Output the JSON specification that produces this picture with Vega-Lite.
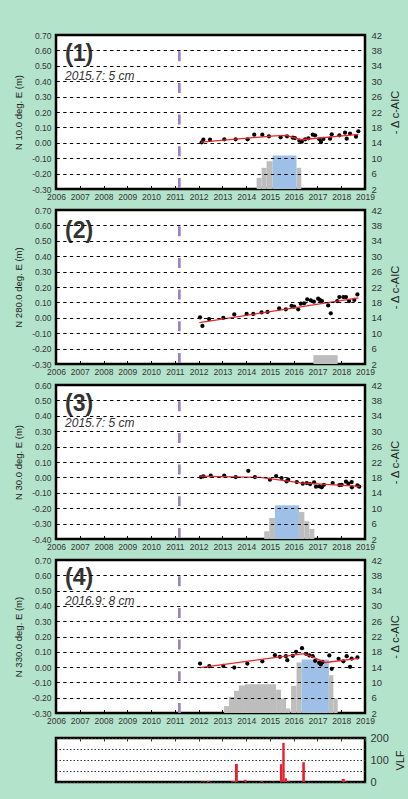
{
  "$schema": "https://vega.github.io/schema/vega-lite/v6.json",
  "background": "#b3e3cb",
  "padding": {"left": 12, "top": 28, "right": 5, "bottom": 11},
  "spacing": 3,
  "config": {
    "view": {"stroke": "black", "strokeWidth": 2.5, "fill": "white"},
    "axis": {"labelFont": "Liberation Sans", "titleFont": "Liberation Sans", "labelColor": "#333", "titleColor": "#222", "titleFontWeight": "normal", "domain": false, "ticks": false, "labelOverlap": false, "labelFlush": false, "tickCount": 30},
    "text": {"font": "Liberation Sans"}
  },
  "vconcat": [
    {
      "spacing": 0,
      "vconcat": [
        {
          "width": 309, "height": 154,
          "layer": [
            {
              "data": {"values": [
                {"x0": 2014.44, "x1": 2014.65, "v": 4.9, "c": "g"},
                {"x0": 2014.65, "x1": 2014.86, "v": 7.5, "c": "g"},
                {"x0": 2014.86, "x1": 2015.11, "v": 9.2, "c": "g"},
                {"x0": 2016.12, "x1": 2016.32, "v": 7.5, "c": "g"},
                {"x0": 2015.11, "x1": 2016.12, "v": 10.7, "c": "b"}
              ]},
              "mark": {"type": "bar"},
              "encoding": {
                "x": {"field": "x0", "type": "quantitative", "scale": {"domain": [2006, 2019], "nice": false, "zero": false},
                      "axis": {"values": [2006,2007,2008,2009,2010,2011,2012,2013,2014,2015,2016,2017,2018,2019], "tickCount": 30, "format": "d", "title": null, "labelFontSize": 8.5, "ticks": true, "tickSize": -3.5, "tickColor": "black", "labelPadding": 7, "grid": false}},
                "x2": {"field": "x1"},
                "y": {"field": "v", "type": "quantitative", "scale": {"domain": [2, 42], "nice": false, "zero": false},
                      "axis": {"orient": "right", "values": [2,6,10,14,18,22,26,30,34,38,42], "tickCount": 30, "title": "- Δ c-AIC", "titleAngle": 270, "titleBaseline": "top", "titleFontSize": 11, "titlePadding": 8, "labelFontSize": 9.5, "labelPadding": 6, "grid": false}},
                "y2": {"datum": 2},
                "color": {"field": "c", "type": "nominal", "scale": {"domain": ["g", "b"], "range": ["#bdbdbd", "#9ec0e6"]}, "legend": null}
              }
            },
            {
              "layer": [
                {
                  "data": {"values": [
                    {"t": 2012.13, "v": 0.003}, {"t": 2012.2, "v": 0.02}, {"t": 2012.48, "v": 0.02}, {"t": 2013.08, "v": 0.023},
                    {"t": 2013.56, "v": 0.023}, {"t": 2014.06, "v": 0.023}, {"t": 2014.34, "v": 0.053}, {"t": 2014.68, "v": 0.053},
                    {"t": 2014.96, "v": 0.042}, {"t": 2015.45, "v": 0.036}, {"t": 2015.72, "v": 0.042}, {"t": 2015.96, "v": 0.033},
                    {"t": 2016.05, "v": 0.031}, {"t": 2016.24, "v": 0.014}, {"t": 2016.34, "v": 0.007}, {"t": 2016.48, "v": 0.023},
                    {"t": 2016.62, "v": 0.029}, {"t": 2016.8, "v": 0.053}, {"t": 2016.9, "v": 0.049}, {"t": 2017.08, "v": 0.023},
                    {"t": 2017.15, "v": 0.005}, {"t": 2017.25, "v": 0.025}, {"t": 2017.53, "v": 0.027}, {"t": 2017.6, "v": 0.055},
                    {"t": 2017.92, "v": 0.049}, {"t": 2018.16, "v": 0.066}, {"t": 2018.23, "v": 0.027}, {"t": 2018.37, "v": 0.06},
                    {"t": 2018.62, "v": 0.04}, {"t": 2018.72, "v": 0.075}
                  ]},
                  "mark": {"type": "circle", "size": 18, "color": "black", "opacity": 1},
                  "encoding": {
                    "x": {"field": "t", "type": "quantitative", "scale": {"domain": [2006, 2019], "nice": false, "zero": false}},
                    "y": {"field": "v", "type": "quantitative", "scale": {"domain": [-0.3, 0.7], "nice": false, "zero": false},
                          "axis": {"orient": "left", "values": [-0.3,-0.2,-0.1,0,0.1,0.2,0.3,0.4,0.5,0.6,0.7], "tickCount": 30, "labelExpr": "replace(format(datum.value, '.2f'), '−', '-')", "title": "N 10.0 deg. E (m)", "titleFontSize": 9.5, "titlePadding": 8, "labelFontSize": 8.5, "labelPadding": 5, "grid": true, "gridColor": "black", "gridDash": [3.3, 3.4], "gridWidth": 1.1, "zindex": 1}}
                  }
                },
                {
                  "data": {"values": [{"t": 2012.1, "v": 0.005}, {"t": 2015.2, "v": 0.045}, {"t": 2015.7, "v": 0.048}, {"t": 2016.3, "v": 0.02}, {"t": 2018.72, "v": 0.055}]},
                  "mark": {"type": "line", "color": "#e8262b", "strokeWidth": 1.3},
                  "encoding": {
                    "x": {"field": "t", "type": "quantitative", "scale": {"domain": [2006, 2019], "nice": false, "zero": false}},
                    "y": {"field": "v", "type": "quantitative", "scale": {"domain": [-0.3, 0.7], "nice": false, "zero": false}}
                  }
                },
                {
                  "data": {"values": [{}]},
                  "mark": {"type": "rule", "color": "#9a84c6", "strokeWidth": 2.7, "strokeDash": [10, 21.7], "strokeDashOffset": 15.5},
                  "encoding": {"x": {"datum": 2011.19}}
                },
                {
                  "data": {"values": [{}]},
                  "mark": {"type": "text", "text": "(1)", "fontSize": 23, "fontWeight": "bold", "color": "#333", "align": "left", "baseline": "alphabetic"},
                  "encoding": {"x": {"datum": 2006.38}, "y": {"datum": 0.53}}
                },
                {
                  "data": {"values": [{}]},
                  "mark": {"type": "text", "text": "2015.7: 5 cm", "fontSize": 12, "fontStyle": "italic", "color": "#333", "align": "left", "baseline": "alphabetic"},
                  "encoding": {"x": {"datum": 2006.38}, "y": {"datum": 0.41}}
                }
              ]
            }
          ],
          "resolve": {"scale": {"y": "independent"}}
        },
        {
          "width": 309, "height": 154,
          "layer": [
            {
              "data": {"values": [
                {"x0": 2016.83, "x1": 2017.85, "v": 4.3, "c": "g"}
              ]},
              "mark": {"type": "bar"},
              "encoding": {
                "x": {"field": "x0", "type": "quantitative", "scale": {"domain": [2006, 2019], "nice": false, "zero": false},
                      "axis": {"values": [2006,2007,2008,2009,2010,2011,2012,2013,2014,2015,2016,2017,2018,2019], "tickCount": 30, "format": "d", "title": null, "labelFontSize": 8.5, "ticks": true, "tickSize": -3.5, "tickColor": "black", "labelPadding": 7, "grid": false}},
                "x2": {"field": "x1"},
                "y": {"field": "v", "type": "quantitative", "scale": {"domain": [2, 42], "nice": false, "zero": false},
                      "axis": {"orient": "right", "values": [2,6,10,14,18,22,26,30,34,38,42], "tickCount": 30, "title": "- Δ c-AIC", "titleAngle": 270, "titleBaseline": "top", "titleFontSize": 11, "titlePadding": 8, "labelFontSize": 9.5, "labelPadding": 6, "grid": false}},
                "y2": {"datum": 2},
                "color": {"field": "c", "type": "nominal", "scale": {"domain": ["g", "b"], "range": ["#bdbdbd", "#9ec0e6"]}, "legend": null}
              }
            },
            {
              "layer": [
                {
                  "data": {"values": [
                    {"t": 2012.06, "v": 0.003}, {"t": 2012.16, "v": -0.053}, {"t": 2012.44, "v": -0.008}, {"t": 2013.04, "v": 0.0},
                    {"t": 2013.5, "v": 0.022}, {"t": 2014.02, "v": 0.025}, {"t": 2014.3, "v": 0.025}, {"t": 2014.65, "v": 0.035},
                    {"t": 2014.9, "v": 0.038}, {"t": 2015.39, "v": 0.061}, {"t": 2015.67, "v": 0.055}, {"t": 2015.91, "v": 0.078},
                    {"t": 2016.02, "v": 0.072}, {"t": 2016.19, "v": 0.055}, {"t": 2016.3, "v": 0.092}, {"t": 2016.44, "v": 0.094},
                    {"t": 2016.57, "v": 0.12}, {"t": 2016.72, "v": 0.113}, {"t": 2016.85, "v": 0.105}, {"t": 2017.03, "v": 0.124},
                    {"t": 2017.1, "v": 0.116}, {"t": 2017.19, "v": 0.109}, {"t": 2017.45, "v": 0.08}, {"t": 2017.56, "v": 0.029},
                    {"t": 2017.83, "v": 0.109}, {"t": 2017.92, "v": 0.135}, {"t": 2018.09, "v": 0.135}, {"t": 2018.2, "v": 0.135},
                    {"t": 2018.33, "v": 0.109}, {"t": 2018.55, "v": 0.116}, {"t": 2018.68, "v": 0.152}
                  ]},
                  "mark": {"type": "circle", "size": 18, "color": "black", "opacity": 1},
                  "encoding": {
                    "x": {"field": "t", "type": "quantitative", "scale": {"domain": [2006, 2019], "nice": false, "zero": false}},
                    "y": {"field": "v", "type": "quantitative", "scale": {"domain": [-0.3, 0.7], "nice": false, "zero": false},
                          "axis": {"orient": "left", "values": [-0.3,-0.2,-0.1,0,0.1,0.2,0.3,0.4,0.5,0.6,0.7], "tickCount": 30, "labelExpr": "replace(format(datum.value, '.2f'), '−', '-')", "title": "N 280.0 deg. E (m)", "titleFontSize": 9.5, "titlePadding": 8, "labelFontSize": 8.5, "labelPadding": 5, "grid": true, "gridColor": "black", "gridDash": [3.3, 3.4], "gridWidth": 1.1, "zindex": 1}}
                  }
                },
                {
                  "data": {"values": [{"t": 2012.03, "v": -0.032}, {"t": 2018.72, "v": 0.13}]},
                  "mark": {"type": "line", "color": "#e8262b", "strokeWidth": 1.3},
                  "encoding": {
                    "x": {"field": "t", "type": "quantitative", "scale": {"domain": [2006, 2019], "nice": false, "zero": false}},
                    "y": {"field": "v", "type": "quantitative", "scale": {"domain": [-0.3, 0.7], "nice": false, "zero": false}}
                  }
                },
                {
                  "data": {"values": [{}]},
                  "mark": {"type": "rule", "color": "#9a84c6", "strokeWidth": 2.7, "strokeDash": [10, 21.7], "strokeDashOffset": 15.5},
                  "encoding": {"x": {"datum": 2011.19}}
                },
                {
                  "data": {"values": [{}]},
                  "mark": {"type": "text", "text": "(2)", "fontSize": 23, "fontWeight": "bold", "color": "#333", "align": "left", "baseline": "alphabetic"},
                  "encoding": {"x": {"datum": 2006.38}, "y": {"datum": 0.52}}
                }
              ]
            }
          ],
          "resolve": {"scale": {"y": "independent"}}
        },
        {
          "width": 309, "height": 154,
          "layer": [
            {
              "data": {"values": [
                {"x0": 2014.76, "x1": 2014.97, "v": 4.0, "c": "g"},
                {"x0": 2014.97, "x1": 2015.21, "v": 7.45, "c": "g"},
                {"x0": 2016.22, "x1": 2016.45, "v": 9.0, "c": "g"},
                {"x0": 2016.45, "x1": 2016.66, "v": 6.6, "c": "g"},
                {"x0": 2016.66, "x1": 2016.87, "v": 4.6, "c": "g"},
                {"x0": 2015.21, "x1": 2016.22, "v": 10.75, "c": "b"}
              ]},
              "mark": {"type": "bar"},
              "encoding": {
                "x": {"field": "x0", "type": "quantitative", "scale": {"domain": [2006, 2019], "nice": false, "zero": false},
                      "axis": {"values": [2006,2007,2008,2009,2010,2011,2012,2013,2014,2015,2016,2017,2018,2019], "tickCount": 30, "format": "d", "title": null, "labelFontSize": 8.5, "ticks": true, "tickSize": -3.5, "tickColor": "black", "labelPadding": 7, "grid": false}},
                "x2": {"field": "x1"},
                "y": {"field": "v", "type": "quantitative", "scale": {"domain": [2, 42], "nice": false, "zero": false},
                      "axis": {"orient": "right", "values": [2,6,10,14,18,22,26,30,34,38,42], "tickCount": 30, "title": "- Δ c-AIC", "titleAngle": 270, "titleBaseline": "top", "titleFontSize": 11, "titlePadding": 8, "labelFontSize": 9.5, "labelPadding": 6, "grid": false}},
                "y2": {"datum": 2},
                "color": {"field": "c", "type": "nominal", "scale": {"domain": ["g", "b"], "range": ["#bdbdbd", "#9ec0e6"]}, "legend": null}
              }
            },
            {
              "layer": [
                {
                  "data": {"values": [
                    {"t": 2012.1, "v": 0.002}, {"t": 2012.2, "v": 0.007}, {"t": 2012.51, "v": 0.011}, {"t": 2013.08, "v": 0.011},
                    {"t": 2013.56, "v": 0.002}, {"t": 2014.09, "v": 0.043}, {"t": 2014.37, "v": 0.002}, {"t": 2015.0, "v": -0.015},
                    {"t": 2015.26, "v": 0.009}, {"t": 2015.49, "v": -0.004}, {"t": 2015.7, "v": -0.026}, {"t": 2015.77, "v": -0.015},
                    {"t": 2016.13, "v": -0.03}, {"t": 2016.38, "v": -0.041}, {"t": 2016.55, "v": -0.037}, {"t": 2016.69, "v": -0.043},
                    {"t": 2016.86, "v": -0.032}, {"t": 2016.94, "v": -0.06}, {"t": 2017.08, "v": -0.058}, {"t": 2017.18, "v": -0.064},
                    {"t": 2017.27, "v": -0.048}, {"t": 2017.64, "v": -0.037}, {"t": 2017.92, "v": -0.05}, {"t": 2018.02, "v": -0.048},
                    {"t": 2018.2, "v": -0.028}, {"t": 2018.3, "v": -0.041}, {"t": 2018.44, "v": -0.03}, {"t": 2018.45, "v": -0.064},
                    {"t": 2018.68, "v": -0.052}, {"t": 2018.76, "v": -0.06}
                  ]},
                  "mark": {"type": "circle", "size": 18, "color": "black", "opacity": 1},
                  "encoding": {
                    "x": {"field": "t", "type": "quantitative", "scale": {"domain": [2006, 2019], "nice": false, "zero": false}},
                    "y": {"field": "v", "type": "quantitative", "scale": {"domain": [-0.4, 0.6], "nice": false, "zero": false},
                          "axis": {"orient": "left", "values": [-0.4,-0.3,-0.2,-0.1,0,0.1,0.2,0.3,0.4,0.5,0.6], "tickCount": 30, "labelExpr": "replace(format(datum.value, '.2f'), '−', '-')", "title": "N 30.0 deg. E (m)", "titleFontSize": 9.5, "titlePadding": 8, "labelFontSize": 8.5, "labelPadding": 5, "grid": true, "gridColor": "black", "gridDash": [3.3, 3.4], "gridWidth": 1.1, "zindex": 1}}
                  }
                },
                {
                  "data": {"values": [{"t": 2012.03, "v": 0.008}, {"t": 2014.6, "v": 0.0}, {"t": 2016.3, "v": -0.035}, {"t": 2018.78, "v": -0.058}]},
                  "mark": {"type": "line", "color": "#e8262b", "strokeWidth": 1.3},
                  "encoding": {
                    "x": {"field": "t", "type": "quantitative", "scale": {"domain": [2006, 2019], "nice": false, "zero": false}},
                    "y": {"field": "v", "type": "quantitative", "scale": {"domain": [-0.4, 0.6], "nice": false, "zero": false}}
                  }
                },
                {
                  "data": {"values": [{}]},
                  "mark": {"type": "rule", "color": "#9a84c6", "strokeWidth": 2.7, "strokeDash": [10, 21.7], "strokeDashOffset": 15.5},
                  "encoding": {"x": {"datum": 2011.19}}
                },
                {
                  "data": {"values": [{}]},
                  "mark": {"type": "text", "text": "(3)", "fontSize": 23, "fontWeight": "bold", "color": "#333", "align": "left", "baseline": "alphabetic"},
                  "encoding": {"x": {"datum": 2006.38}, "y": {"datum": 0.432}}
                },
                {
                  "data": {"values": [{}]},
                  "mark": {"type": "text", "text": "2015.7: 5 cm", "fontSize": 12, "fontStyle": "italic", "color": "#333", "align": "left", "baseline": "alphabetic"},
                  "encoding": {"x": {"datum": 2006.38}, "y": {"datum": 0.325}}
                }
              ]
            }
          ],
          "resolve": {"scale": {"y": "independent"}}
        },
        {
          "width": 309, "height": 153,
          "layer": [
            {
              "data": {"values": [
                {"x0": 2013.07, "x1": 2013.28, "v": 3.8, "c": "g"},
                {"x0": 2013.28, "x1": 2013.49, "v": 6.2, "c": "g"},
                {"x0": 2013.49, "x1": 2013.7, "v": 7.8, "c": "g"},
                {"x0": 2013.7, "x1": 2013.95, "v": 9.2, "c": "g"},
                {"x0": 2013.95, "x1": 2015.26, "v": 9.5, "c": "g"},
                {"x0": 2015.26, "x1": 2015.47, "v": 8.1, "c": "g"},
                {"x0": 2015.47, "x1": 2015.68, "v": 5.8, "c": "g"},
                {"x0": 2015.68, "x1": 2015.86, "v": 3.2, "c": "g"},
                {"x0": 2015.89, "x1": 2016.12, "v": 9.1, "c": "g"},
                {"x0": 2016.12, "x1": 2016.33, "v": 15.2, "c": "g"},
                {"x0": 2017.48, "x1": 2017.67, "v": 11.9, "c": "g"},
                {"x0": 2017.67, "x1": 2017.85, "v": 5.8, "c": "g"},
                {"x0": 2016.33, "x1": 2017.48, "v": 16.0, "c": "b"}
              ]},
              "mark": {"type": "bar"},
              "encoding": {
                "x": {"field": "x0", "type": "quantitative", "scale": {"domain": [2006, 2019], "nice": false, "zero": false},
                      "axis": {"values": [2006,2007,2008,2009,2010,2011,2012,2013,2014,2015,2016,2017,2018,2019], "tickCount": 30, "format": "d", "title": null, "labelFontSize": 8.5, "ticks": true, "tickSize": -3.5, "tickColor": "black", "labelPadding": 7, "grid": false}},
                "x2": {"field": "x1"},
                "y": {"field": "v", "type": "quantitative", "scale": {"domain": [2, 42], "nice": false, "zero": false},
                      "axis": {"orient": "right", "values": [2,6,10,14,18,22,26,30,34,38,42], "tickCount": 30, "title": "- Δ c-AIC", "titleAngle": 270, "titleBaseline": "top", "titleFontSize": 11, "titlePadding": 8, "labelFontSize": 9.5, "labelPadding": 6, "grid": false}},
                "y2": {"datum": 2},
                "color": {"field": "c", "type": "nominal", "scale": {"domain": ["g", "b"], "range": ["#bdbdbd", "#9ec0e6"]}, "legend": null}
              }
            },
            {
              "layer": [
                {
                  "data": {"values": [
                    {"t": 2012.06, "v": 0.023}, {"t": 2012.45, "v": 0.006}, {"t": 2013.04, "v": 0.008}, {"t": 2013.5, "v": -0.003},
                    {"t": 2014.05, "v": 0.023}, {"t": 2014.68, "v": 0.038}, {"t": 2015.21, "v": 0.078}, {"t": 2015.42, "v": 0.067},
                    {"t": 2015.67, "v": 0.071}, {"t": 2015.73, "v": 0.045}, {"t": 2015.96, "v": 0.074}, {"t": 2016.1, "v": 0.1},
                    {"t": 2016.35, "v": 0.124}, {"t": 2016.52, "v": 0.087}, {"t": 2016.66, "v": 0.076}, {"t": 2016.8, "v": 0.071},
                    {"t": 2016.9, "v": 0.041}, {"t": 2017.07, "v": 0.028}, {"t": 2017.14, "v": 0.017}, {"t": 2017.21, "v": 0.032},
                    {"t": 2017.5, "v": 0.076}, {"t": 2017.6, "v": -0.011}, {"t": 2017.89, "v": 0.054}, {"t": 2018.09, "v": 0.038},
                    {"t": 2018.23, "v": 0.071}, {"t": 2018.37, "v": 0.002}, {"t": 2018.44, "v": 0.056}, {"t": 2018.68, "v": 0.063}
                  ]},
                  "mark": {"type": "circle", "size": 18, "color": "black", "opacity": 1},
                  "encoding": {
                    "x": {"field": "t", "type": "quantitative", "scale": {"domain": [2006, 2019], "nice": false, "zero": false}},
                    "y": {"field": "v", "type": "quantitative", "scale": {"domain": [-0.3, 0.7], "nice": false, "zero": false},
                          "axis": {"orient": "left", "values": [-0.3,-0.2,-0.1,0,0.1,0.2,0.3,0.4,0.5,0.6,0.7], "tickCount": 30, "labelExpr": "replace(format(datum.value, '.2f'), '−', '-')", "title": "N 330.0 deg. E (m)", "titleFontSize": 9.5, "titlePadding": 8, "labelFontSize": 8.5, "labelPadding": 5, "grid": true, "gridColor": "black", "gridDash": [3.3, 3.4], "gridWidth": 1.1, "zindex": 1}}
                  }
                },
                {
                  "data": {"values": [{"t": 2012.06, "v": -0.003}, {"t": 2016.45, "v": 0.088}, {"t": 2017.35, "v": 0.03}, {"t": 2018.72, "v": 0.057}]},
                  "mark": {"type": "line", "color": "#e8262b", "strokeWidth": 1.3},
                  "encoding": {
                    "x": {"field": "t", "type": "quantitative", "scale": {"domain": [2006, 2019], "nice": false, "zero": false}},
                    "y": {"field": "v", "type": "quantitative", "scale": {"domain": [-0.3, 0.7], "nice": false, "zero": false}}
                  }
                },
                {
                  "data": {"values": [{}]},
                  "mark": {"type": "rule", "color": "#9a84c6", "strokeWidth": 2.7, "strokeDash": [10, 21.7], "strokeDashOffset": 15.5},
                  "encoding": {"x": {"datum": 2011.19}}
                },
                {
                  "data": {"values": [{}]},
                  "mark": {"type": "text", "text": "(4)", "fontSize": 23, "fontWeight": "bold", "color": "#333", "align": "left", "baseline": "alphabetic"},
                  "encoding": {"x": {"datum": 2006.38}, "y": {"datum": 0.535}}
                },
                {
                  "data": {"values": [{}]},
                  "mark": {"type": "text", "text": "2016.9: 8 cm", "fontSize": 12, "fontStyle": "italic", "color": "#333", "align": "left", "baseline": "alphabetic"},
                  "encoding": {"x": {"datum": 2006.38}, "y": {"datum": 0.406}}
                }
              ]
            }
          ],
          "resolve": {"scale": {"y": "independent"}}
        }
      ]
    },
    {
      "width": 309, "height": 44,
      "data": {"values": [
        {"x0": 2011.3, "x1": 2011.4, "v": 2}, {"x0": 2012.1, "x1": 2012.3, "v": 2}, {"x0": 2012.35, "x1": 2012.47, "v": 5},
        {"x0": 2013.36, "x1": 2013.45, "v": 3}, {"x0": 2013.45, "x1": 2013.53, "v": 5}, {"x0": 2013.53, "x1": 2013.65, "v": 82},
        {"x0": 2013.9, "x1": 2014.02, "v": 10}, {"x0": 2014.6, "x1": 2014.7, "v": 5}, {"x0": 2015.1, "x1": 2015.2, "v": 2},
        {"x0": 2015.42, "x1": 2015.52, "v": 81}, {"x0": 2015.52, "x1": 2015.62, "v": 178}, {"x0": 2015.62, "x1": 2015.72, "v": 17},
        {"x0": 2015.75, "x1": 2015.85, "v": 3}, {"x0": 2016.36, "x1": 2016.47, "v": 90}, {"x0": 2018.02, "x1": 2018.15, "v": 14},
        {"x0": 2018.15, "x1": 2018.22, "v": 4}
      ]},
      "mark": {"type": "bar", "color": "#e8202a"},
      "encoding": {
        "x": {"field": "x0", "type": "quantitative", "scale": {"domain": [2006, 2019], "nice": false, "zero": false},
              "axis": {"orient": "top", "values": [2006,2007,2008,2009,2010,2011,2012,2013,2014,2015,2016,2017,2018,2019], "tickCount": 30, "labels": false, "title": null, "ticks": true, "tickSize": -3, "tickColor": "#333", "grid": false}},
        "x2": {"field": "x1"},
        "y": {"field": "v", "type": "quantitative", "scale": {"domain": [0, 200], "nice": false},
              "axis": {"orient": "right", "values": [0, 50, 100, 150, 200], "tickCount": 30, "labelExpr": "datum.value % 100 == 0 ? datum.label : ''", "labelFontSize": 11, "labelPadding": 5, "title": "VLF", "titleAngle": 270, "titleBaseline": "top", "titleFontSize": 11, "titlePadding": 6, "grid": true, "gridColor": "#333", "gridDash": [1.5, 2], "gridWidth": 1.1}},
        "y2": {"datum": 0}
      }
    }
  ]
}
